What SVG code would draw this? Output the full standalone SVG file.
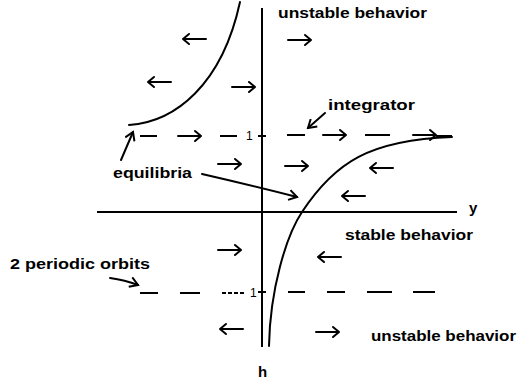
<svg xmlns="http://www.w3.org/2000/svg" xmlns:xlink="http://www.w3.org/1999/xlink" width="521" height="383" viewBox="0 0 521 383">
<style>
.ln{fill:none;stroke:#000;stroke-width:2;stroke-linecap:round;stroke-linejoin:round}
.ax{fill:none;stroke:#000;stroke-width:2}
.ds{fill:none;stroke:#000;stroke-width:2}
.fa{fill:none;stroke:#000;stroke-width:2;stroke-linecap:round;stroke-linejoin:round}
.t{font-family:"Liberation Sans",Arial,sans-serif;font-size:15px;font-weight:bold;fill:#000}
.s{font-family:"Liberation Sans",Arial,sans-serif;font-size:12px;fill:#000}
</style>
<defs>
<path id="ra" class="fa" d="M0 0 H23 M17 -5 L23 0 L17 5"/>
<path id="la" class="fa" d="M23 0 H0 M6 -5 L0 0 L6 5"/>
<marker id="ah" viewBox="0 0 12 12" refX="10" refY="6" markerWidth="12" markerHeight="12" markerUnits="userSpaceOnUse" orient="auto">
<path d="M2 1 L10 6 L2 11" fill="none" stroke="#000" stroke-width="2"/>
</marker>
</defs>
<g id="axes">
<line class="ax" x1="262" y1="8" x2="262" y2="347"/>
<line class="ax" x1="97" y1="212" x2="457" y2="212"/>
<line class="ax" x1="258" y1="136" x2="266" y2="136"/>
<line class="ax" x1="258" y1="292" x2="266" y2="292"/>
<text class="t" x="469" y="213">y</text>
<text class="t" x="258" y="377">h</text>
<text class="s" x="246" y="140">1</text>
<text class="s" x="250" y="297">1</text>
</g>
<g id="curves">
<path class="ln" d="M129 125 C175 122 222 85 240 2"/>
<path class="ln" d="M269 346 C270 290 286 236 302 212 C335 162 370 140 452 137"/>
</g>
<g id="integrator-line">
<line class="ds" x1="140" y1="136" x2="157" y2="136"/>
<use xlink:href="#ra" x="178" y="136"/>
<line class="ds" x1="220" y1="136" x2="237" y2="136"/>
<line class="ds" x1="287" y1="135" x2="305" y2="135"/>
<use xlink:href="#ra" x="323" y="135"/>
<line class="ds" x1="365" y1="135" x2="390" y2="135"/>
<use xlink:href="#ra" x="413" y="135"/>
<line class="ds" x1="436" y1="136" x2="452" y2="136"/>
</g>
<g id="periodic-line">
<line class="ds" x1="140" y1="293" x2="158" y2="293"/>
<line class="ds" x1="180" y1="293" x2="200" y2="293"/>
<line class="ds" x1="222" y1="293" x2="246" y2="293" stroke-dasharray="4 2"/>
<line class="ds" x1="288" y1="292" x2="305" y2="292"/>
<line class="ds" x1="327" y1="292" x2="345" y2="292"/>
<line class="ds" x1="367" y1="292" x2="392" y2="292"/>
<line class="ds" x1="413" y1="292" x2="435" y2="292"/>
</g>
<g id="field">
<use xlink:href="#la" x="183" y="39"/>
<use xlink:href="#ra" x="288" y="40"/>
<use xlink:href="#la" x="148" y="82"/>
<use xlink:href="#ra" x="232" y="87"/>
<use xlink:href="#ra" x="218" y="164"/>
<use xlink:href="#ra" x="285" y="166"/>
<use xlink:href="#la" x="370" y="168"/>
<use xlink:href="#la" x="342" y="196"/>
<use xlink:href="#ra" x="218" y="250"/>
<use xlink:href="#la" x="318" y="257"/>
<use xlink:href="#la" x="220" y="329"/>
<use xlink:href="#ra" x="316" y="332"/>
</g>
<g id="labels">
<text class="t" x="278" y="18" textLength="149" lengthAdjust="spacingAndGlyphs">unstable behavior</text>
<text class="t" x="328" y="110" textLength="87" lengthAdjust="spacingAndGlyphs">integrator</text>
<text class="t" x="113" y="178" textLength="79" lengthAdjust="spacingAndGlyphs">equilibria</text>
<text class="t" x="345" y="240" textLength="128" lengthAdjust="spacingAndGlyphs">stable behavior</text>
<text class="t" x="10" y="269" textLength="140" lengthAdjust="spacingAndGlyphs">2 periodic orbits</text>
<text class="t" x="371" y="341" textLength="145" lengthAdjust="spacingAndGlyphs">unstable behavior</text>
</g>
<g id="connectors">
<path class="ln" d="M325 113 L308 128" marker-end="url(#ah)"/>
<path class="ln" d="M202 174 Q250 185 297 197" marker-end="url(#ah)"/>
<path class="ln" d="M121 160 L133 132" marker-end="url(#ah)"/>
<path class="ln" d="M110 278 Q125 280 138 285" marker-end="url(#ah)"/>
</g>
</svg>
